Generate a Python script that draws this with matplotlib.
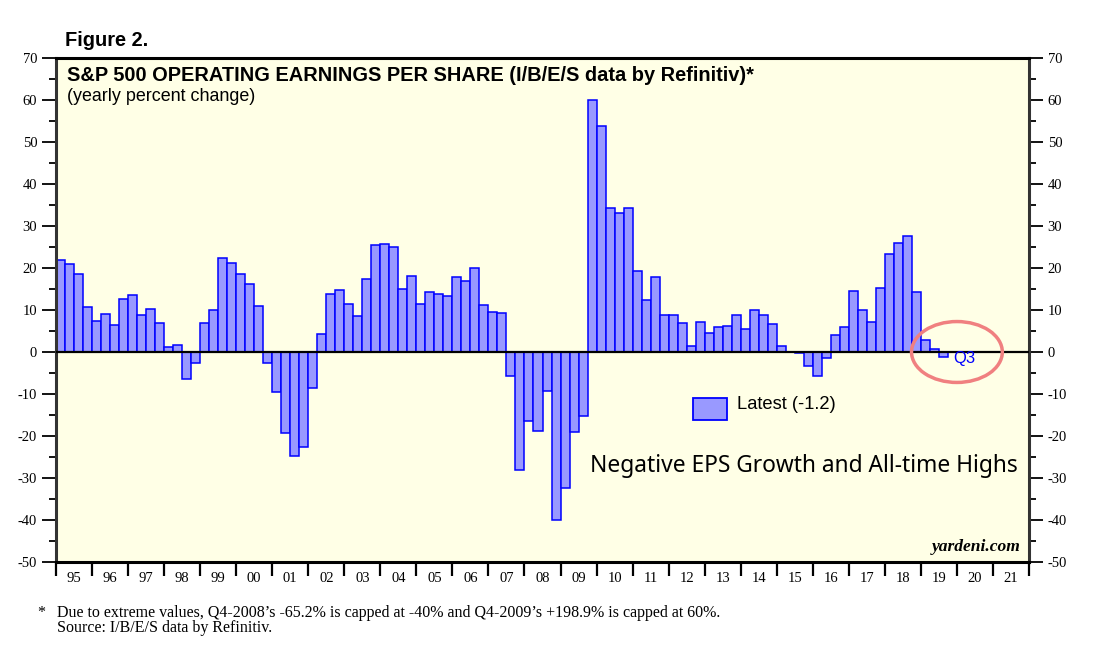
import numpy as np
import matplotlib
matplotlib.use('Agg')
import matplotlib.pyplot as plt
from matplotlib.patches import Ellipse, Rectangle

plt.rcParams['axes.unicode_minus'] = False

# quarterly yearly % change of S&P 500 operating EPS, 1995 Q1 .. 2019 Q3
start_year = 1995
eps_growth = [
    22.0, 20.9, 18.5, 10.7,    # 95
    7.3, 9.1, 6.4, 12.6,       # 96
    13.6, 8.9, 10.3, 7.0,      # 97
    1.3, 1.7, -6.5, -2.7,      # 98
    6.9, 10.1, 22.4, 21.1,     # 99
    18.6, 16.1, 11.0, -2.7,    # 00
    -9.5, -19.3, -24.8, -22.6, # 01
    -8.5, 4.4, 13.9, 14.8,     # 02
    11.4, 8.6, 17.5, 25.4,     # 03
    25.6, 24.9, 15.1, 18.0,    # 04
    11.5, 14.2, 13.7, 13.3,    # 05
    17.9, 16.8, 19.9, 11.2,    # 06
    9.6, 9.4, -5.6, -28.1,     # 07
    -16.5, -18.9, -9.3, -40.0, # 08 (Q4 capped)
    -32.4, -19.1, -15.3, 60.0, # 09 (Q4 capped)
    53.7, 34.3, 33.0, 34.3,    # 10
    19.2, 12.4, 17.9, 8.8,     # 11
    8.8, 7.0, 1.4, 7.2,        # 12
    4.5, 6.0, 6.2, 8.7,        # 13
    5.4, 9.9, 8.7, 6.7,        # 14
    1.4, 0.1, -0.3, -3.3,      # 15
    -5.7, -1.5, 4.1, 6.0,      # 16
    14.6, 10.1, 7.2, 15.2,     # 17
    23.3, 25.9, 27.6, 14.3,    # 18
    2.9, 0.7, -1.2,            # 19
]
year_labels = ['95', '96', '97', '98', '99', '00', '01', '02', '03', '04', '05', '06', '07',
               '08', '09', '10', '11', '12', '13', '14', '15', '16', '17', '18', '19', '20', '21']
latest = eps_growth[-1]

x = start_year + np.arange(len(eps_growth)) * 0.25

fig = plt.figure(figsize=(11.04, 6.65), dpi=100)
ax = fig.add_axes([56/1104, 1-562/665, 973/1104, 504/665])
ax.set_facecolor('#ffffe6')

ax.bar(x, eps_growth, width=0.25, align='edge', color='#9999ff', edgecolor='#0000ff', linewidth=1.1, zorder=2)
ax.axhline(0, color='black', linewidth=1.6, zorder=3)

ax.set_xlim(start_year, start_year + len(year_labels))
ax.set_ylim(-50, 70)

# years: boundary ticks, labels centred between them
ax.set_xticks(np.arange(start_year, start_year + len(year_labels) + 1))
ax.set_xticklabels([])
ax.set_xticks(np.arange(len(year_labels)) + start_year + 0.5, minor=True)
ax.set_xticklabels(year_labels, minor=True, family='Liberation Serif', fontsize=10.5)
ax.tick_params(axis='x', which='major', direction='out', length=10, width=1.6)
ax.tick_params(axis='x', which='minor', length=0, pad=7)

ax.set_yticks(np.arange(-50, 71, 10))
ax.set_yticks(np.arange(-45, 70, 10), minor=True)
ax.tick_params(axis='y', which='both', left=True, right=True, labelleft=True, labelright=True,
               direction='out', width=1.3)
ax.tick_params(axis='y', which='major', length=10, labelsize=10.5)
ax.tick_params(axis='y', which='minor', length=5)
for lab in ax.get_yticklabels():
    lab.set_family('Liberation Serif')

for s in ax.spines.values():
    s.set_linewidth(2.2)
ax.spines['left'].set_color('#333333')
ax.spines['right'].set_color('#333333')

ax.text(0.011, 0.985, 'S&P 500 OPERATING EARNINGS PER SHARE (I/B/E/S data by Refinitiv)*',
        transform=ax.transAxes, ha='left', va='top', fontsize=14.4, fontweight='bold',
        family='Liberation Sans')
ax.text(0.011, 0.94, '(yearly percent change)', transform=ax.transAxes, ha='left', va='top',
        fontsize=12.9, family='Liberation Sans')
fig.text(65/1104, 1-40/665, 'Figure 2.', ha='left', va='center', fontsize=14.4, fontweight='bold',
         family='Liberation Sans')

# latest quarter marker
ax.add_patch(Ellipse((2020.0, 0), 2.52, 14.5, fill=False, edgecolor='#f08080', linewidth=2.5, zorder=4))
ax.text(x[-1] + 0.40, -1.5, 'Q3', color='#0000ff', fontsize=12, family='Liberation Sans',
        ha='left', va='center', zorder=5)

# legend key
ax.add_patch(Rectangle((0.6547, 0.2817), 0.0349, 0.0437, transform=ax.transAxes,
                       facecolor='#9999ff', edgecolor='#0000ff', linewidth=1.3, zorder=4))
ax.text(0.700, 0.3125, 'Latest (%.1f)' % latest, transform=ax.transAxes, ha='left', va='center',
        fontsize=13.2, family='Liberation Sans')

ax.text(0.549, 0.19, 'Negative EPS Growth and All-time Highs', transform=ax.transAxes,
        ha='left', va='center', fontsize=16.4, family='Noto Sans')

ax.text(0.991, 0.014, 'yardeni.com', transform=ax.transAxes, ha='right', va='bottom',
        fontsize=12.6, fontweight='bold', style='italic', family='Liberation Serif')

fig.text(37/1104, 1-613/665, '*', ha='left', va='center', fontsize=11.5, family='Liberation Serif')
fig.text(57/1104, 1-613/665,
         "Due to extreme values, Q4-2008\u2019s -65.2% is capped at -40% and Q4-2009\u2019s +198.9% is capped at 60%.",
         ha='left', va='center', fontsize=11.5, family='Liberation Serif')
fig.text(57/1104, 1-628/665, 'Source: I/B/E/S data by Refinitiv.', ha='left', va='center',
         fontsize=11.5, family='Liberation Serif')

fig.savefig('out.png', dpi=100)
